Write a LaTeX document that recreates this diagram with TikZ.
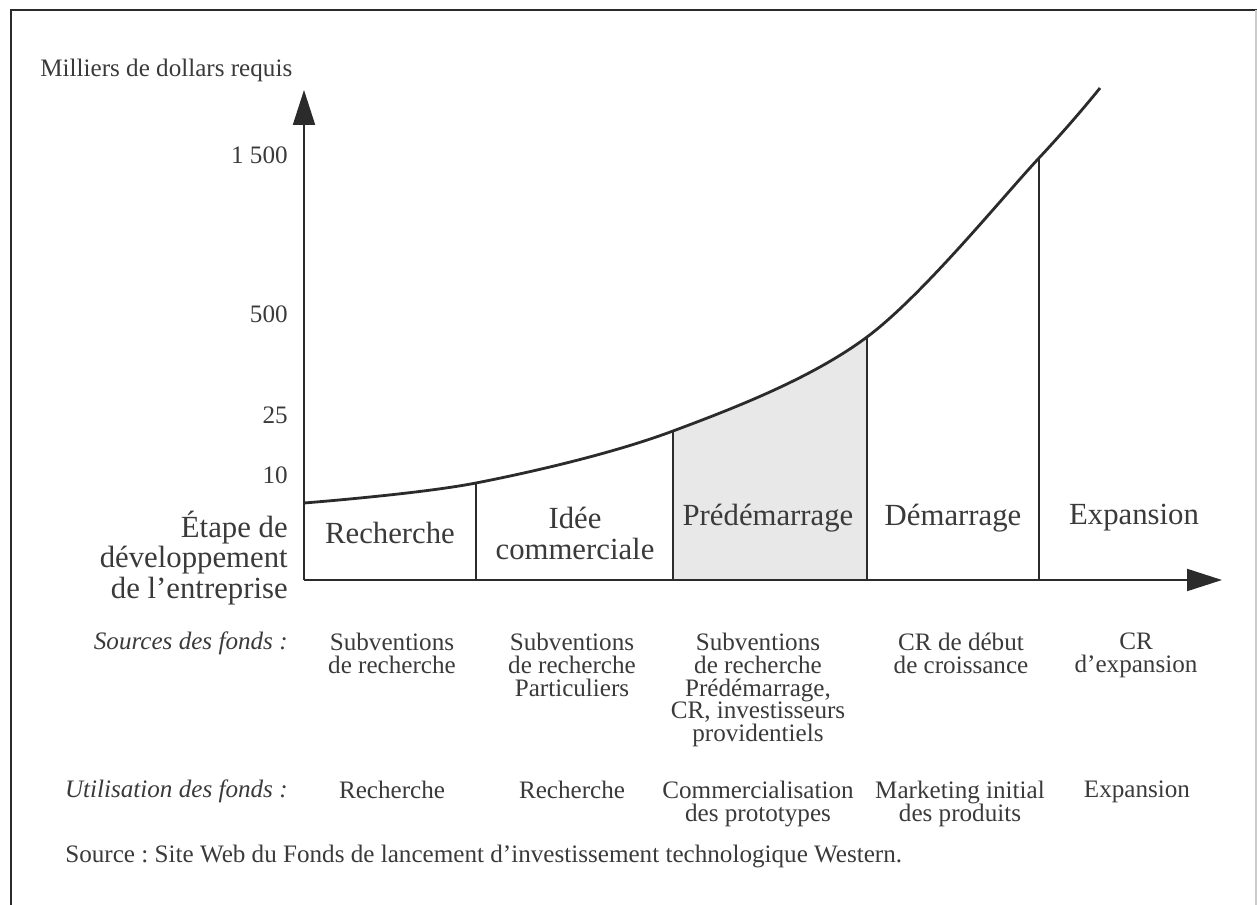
\documentclass[tikz,border=0pt]{standalone}
\usepackage{fontspec}
\setmainfont{Liberation Serif}
\usetikzlibrary{arrows.meta}
\definecolor{ink}{HTML}{2B2B2B}
\definecolor{txt}{HTML}{3A3A3A}
\definecolor{grisclair}{HTML}{E8E8E8}
\newcommand{\petitcorps}{\fontsize{14.3}{12.9}\selectfont\lineskiplimit=-10pt\frenchspacing}
\tikzset{
  axe/.style={draw=ink, line width=1.2pt, -{Triangle[length=0.7cm,width=0.44cm]}},
  courbe/.style={draw=ink, line width=1.6pt},
  borne/.style={draw=ink, line width=1.4pt},
  petit/.style={text=txt, inner sep=0pt, font=\petitcorps},
  grand/.style={text=txt, inner sep=0pt, align=center, font=\fontsize{17.5}{17.6}\selectfont},
  fonds/.style={petit, align=center, anchor=north},
  rubrique/.style={petit, anchor=east, font=\petitcorps\itshape}
}
\begin{document}
\begin{tikzpicture}[x=0.02cm, y=-0.02cm]
  \useasboundingbox (0,0) rectangle (1257,905);
  % cadre
  \draw[ink, line width=1.1pt] (11,905) -- (11,10) -- (1257,10);
  \draw[gray!40, line width=0.6pt] (1256,10) -- (1256,905);

  % points de la courbe
  \coordinate (c0) at (304,503);
  \coordinate (c1) at (476,483);
  \coordinate (c2) at (673,431);
  \coordinate (c3) at (867,337);
  \coordinate (c4) at (1039,158);
  \coordinate (c5) at (1100,88);
  \coordinate (o) at (304,580);

  % zone grise (predemarrage)
  \begin{scope}
    \clip (673,0) rectangle (867,580);
    \fill[grisclair] plot[smooth, tension=0.55] coordinates {(c0) (c1) (c2) (c3) (c4) (c5)} -- (1100,580) -- (304,580) -- cycle;
  \end{scope}

  % axes
  \coordinate (xfin) at (1222,580);
  \coordinate (yfin) at (304,90);
  \draw[axe] (o) -- (xfin);
  \draw[axe] (o) -- (yfin);

  % courbe et separations
  \draw[courbe] plot[smooth, tension=0.55] coordinates {(c0) (c1) (c2) (c3) (c4) (c5)};
  \foreach \p in {c1,c2,c3,c4}
    \draw[borne] (\p) -- (\p |- o);

  % graduations
  \node[petit, anchor=west] (titre) at (40,70) {Milliers de dollars requis};
  \node[petit, anchor=east] (v1500) at (288,155) {1 500};
  \node[petit, anchor=east] (v500) at (288,314) {500};
  \node[petit, anchor=east] (v25) at (288,415) {25};
  \node[petit, anchor=east] (v10) at (288,475) {10};

  % etapes
  \node[grand, align=right, anchor=east] (etape) at (288,558) {Étape de\\développement\\de l’entreprise};
  \node[grand] (recherche) at (390,533) {Recherche};
  \node[grand] (idee) at (575,533) {Idée\\commerciale};
  \node[grand] (predem) at (768,518) {Prédémarrage};
  \node[grand] (demar) at (953,518) {Démarrage};
  \node[grand] (expan) at (1134,518) {Expansion};

  % sources des fonds
  \node[rubrique] (sources) at (288,643) {Sources des fonds :};
  \node[fonds] (s1) at (392,633) {Subventions\\de recherche};
  \node[fonds] (s2) at (572,633) {Subventions\\de recherche\\Particuliers};
  \node[fonds] (s3) at (758,633) {Subventions\\de recherche\\Prédémarrage,\\CR, investisseurs\\providentiels};
  \node[fonds] (s4) at (961,633) {CR de début\\de croissance};
  \node[fonds] (s5) at (1136,633) {CR\\d’expansion};

  % utilisation des fonds
  \node[rubrique] (utilisation) at (288,791) {Utilisation des fonds :};
  \node[fonds] (u1) at (392,781) {Recherche};
  \node[fonds] (u2) at (572,781) {Recherche};
  \node[fonds] (u3) at (758,781) {Commercialisation\\des prototypes};
  \node[fonds] (u4) at (960,781) {Marketing initial\\des produits};
  \node[fonds] (u5) at (1137,781) {Expansion};

  \node[petit, anchor=west] (note) at (65,856) {Source : Site Web du Fonds de lancement d’investissement technologique Western.};
\end{tikzpicture}
\end{document}
